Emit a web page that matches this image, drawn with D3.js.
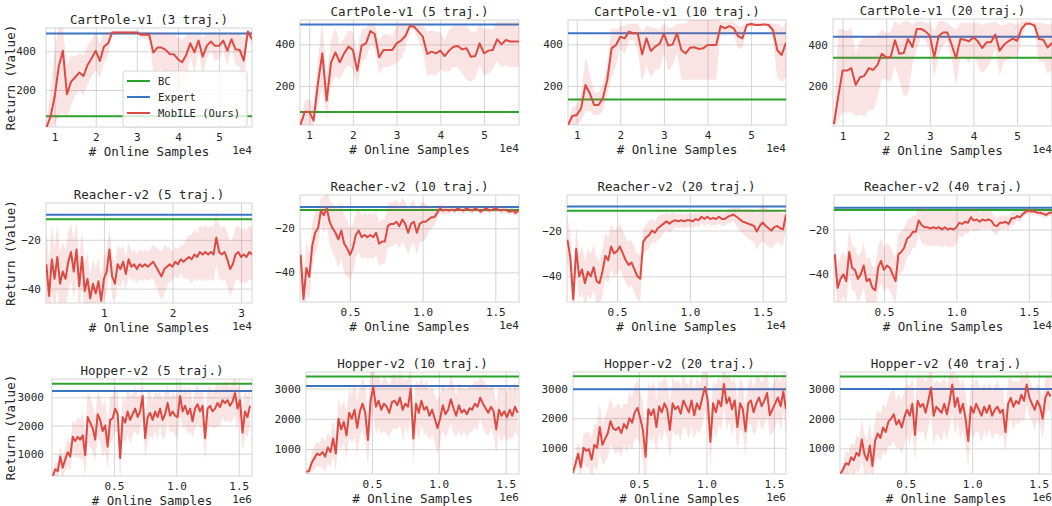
<!DOCTYPE html>
<html>
<head>
<meta charset="utf-8">
<script src="https://cdn.jsdelivr.net/npm/d3@7"></script>
<style>
body { margin: 0; background: #fff; }
svg { display: block; font-family: "DejaVu Sans Mono", monospace; }
</style>
</head>
<body>
<div id="chart"></div>
<script>
// ---- tick values ----
const cpXTicks = [1, 2, 3, 4, 5];
const cpYTicks = [200, 400];
const reach5XTicks = [1, 2, 3];
const reachXTicks = [0.5, 1.0, 1.5];
const reachYTicks = [-40, -20];
const hopXTicks = [0.5, 1.0, 1.5];
const hopYTicks = [1000, 2000, 3000];

const legendLabels = ['BC', 'Expert', 'MobILE (Ours)'];

// ---- CartPole (x = 0.8 .. 5.8 e4, step 0.1) ----
const cp3Mean = [7,62,165,321,403,178,243,266,290,272,329,364,402,350,424,441,497,497,497,497,497,497,497,485,485,485,393,419,419,407,386,384,359,343,381,441,395,455,372,428,450,428,428,455,403,462,410,407,352,502,462];
const cp3Lo = [5,5,20,60,80,60,120,170,200,170,230,270,300,260,340,380,480,490,490,490,490,490,490,470,460,460,290,300,310,280,250,250,180,230,250,370,290,400,270,360,400,350,360,410,320,420,330,320,230,490,420];
const cp3Hi = [30,200,400,520,520,330,380,370,390,380,430,460,500,440,500,500,505,505,505,505,505,505,505,500,500,500,495,500,500,495,490,490,470,460,480,500,480,500,470,490,500,490,490,500,480,500,490,490,470,510,500];

const cp5Mean = [13,77,77,34,213,357,130,314,362,314,357,389,373,274,394,405,464,450,338,373,373,373,405,418,440,488,485,461,437,354,365,357,370,344,370,389,392,376,381,341,344,405,357,370,373,424,400,421,414,414,414];
const cp5Lo = [5,10,10,10,100,200,40,200,250,230,280,300,280,190,320,330,400,380,260,290,290,300,310,330,380,470,470,420,370,250,260,250,280,270,270,290,290,260,230,220,240,300,250,260,280,320,290,300,290,290,290];
const cp5Hi = [20,130,140,100,330,510,250,420,480,400,430,470,460,360,470,480,500,500,420,450,450,440,490,500,500,500,500,500,500,460,470,460,460,420,470,490,490,490,490,460,460,500,470,480,470,510,510,510,510,510,510];

const cp10Mean = [13,56,61,93,205,165,109,109,141,229,381,397,437,429,461,453,453,352,429,368,389,402,450,394,400,453,373,357,384,386,378,381,397,397,397,488,477,488,477,440,429,493,498,493,493,496,493,469,373,349,408];
const cp10Lo = [5,10,15,30,80,80,60,60,80,160,240,300,380,350,420,420,370,220,300,240,280,280,360,270,300,360,230,230,230,230,230,230,230,230,230,460,440,460,440,380,380,480,490,490,490,490,480,420,240,220,240];
const cp10Hi = [30,100,110,160,340,260,170,170,210,310,480,470,490,490,500,500,500,460,490,480,480,470,500,480,480,500,500,500,520,520,520,520,520,520,520,510,510,510,510,490,490,505,505,505,505,505,505,500,500,480,500];

const cp20Mean = [12,147,276,276,288,205,243,250,288,279,304,359,342,342,425,359,362,431,392,481,481,469,448,342,445,464,464,403,337,431,428,420,440,420,387,415,415,453,374,403,420,433,423,481,506,506,498,431,428,390,412];
const cp20Lo = [3,30,70,70,70,55,60,50,80,80,140,240,230,220,300,230,150,160,300,380,440,420,380,240,350,400,420,330,200,340,340,310,360,300,260,290,320,390,250,320,330,350,340,430,500,500,480,320,320,260,280];
const cp20Hi = [20,480,480,470,490,360,420,440,450,440,450,480,460,470,520,500,520,520,500,520,520,510,510,470,520,520,510,490,480,510,510,510,510,510,500,510,510,520,500,500,510,510,500,520,520,520,515,510,510,500,510];

// ---- Reacher ----
const re5Mean = [-30,-43,-28,-36,-27,-38,-33,-36,-29,-25,-33,-24,-39,-27,-41,-36,-44,-38,-42,-37,-45,-36,-33,-24,-35,-38,-30,-32,-29,-34,-28,-31,-30,-32,-30,-31,-30,-31,-30,-29,-31,-33,-35,-32,-31,-30,-31,-29,-30,-28,-29,-28,-27,-28,-26,-27,-25,-26,-25,-26,-25,-26,-19,-25,-26,-25,-28,-32,-30,-26,-25,-27,-26,-27,-25,-26];
const re5Sd = [14,14,14,13,13,13,12,12,12,12,12,12,12,11,11,11,10,10,10,10,10,9,9,9,9,8,8,8,7,7,7,6,6,6,6,6,6,6,6,7,8,9,10,10,8,7,6,6,6,6,7,8,9,10,10,10,11,11,11,11,11,11,11,11,11,11,11,11,11,11,11,11,11,11,11,11];

const re10Mean = [-32,-52,-38,-42,-28,-22,-20,-12,-14,-11,-17,-20,-22,-25,-21,-27,-29,-32,-29,-23,-21,-24,-23,-24,-23,-24,-22,-27,-26,-26,-19,-18,-18,-17,-19,-16,-18,-22,-18,-17,-22,-18,-17,-17,-16,-15,-15,-13,-11,-12,-11.5,-12,-11.5,-12,-11,-11.5,-12,-11,-11.5,-12,-11,-11.5,-12.5,-11.5,-11,-12,-11.5,-11,-11.5,-12,-11.5,-12,-12.5,-12,-13,-12];
const re10Sd = [12,12,12,10,10,10,8,6,8,8,10,11,12,13,13,13,13,12,11,10,10,10,10,10,10,10,10,10,10,10,10,10,10,10,10,10,10,10,10,10,10,9,9,8,6,5,4,3,2,2,2,1.5,1.5,1.5,1.5,1.5,1.5,1.5,1.5,1.5,1.5,1.5,1.5,1.5,1.5,1.5,1.5,1.5,1.5,1.5,1.5,1.5,1.5,1.5,1.5,1.5];

const re20Mean = [-24,-32,-50,-28,-40,-37,-43,-38,-40,-36,-42,-43,-38,-31,-33,-27,-30,-29,-27,-30,-33,-35,-34,-37,-40,-41,-25,-23,-22,-20,-21,-19,-18,-17,-16,-17,-16,-15.5,-16,-15.5,-16,-15.5,-15.5,-16,-15,-15.5,-14,-15,-14,-15,-14.5,-15,-14,-15,-15,-14,-13.5,-13,-14,-15,-16,-16.5,-17,-17.5,-18,-20.5,-18,-16.5,-18,-19,-20,-18.5,-18,-19,-19.5,-13];
const re20Sd = [10,10,10,10,10,10,10,10,10,10,10,10,10,10,10,10,10,10,10,10,10,10,10,10,10,10,6,6,6,5,5,5,5,4,4,4,4,3,3,3,3,3,3,3,3,3,3,3,3,3,3,3,3,3,3,3,3,3,4,5,5,6,6,7,7,8,8,8,8,8,8,8,7,7,7,6];

const re40Mean = [-31,-46,-42,-40,-43,-30,-37,-38,-42,-40,-36,-43,-42,-46,-47,-37,-34,-38,-36,-37,-40,-43,-31,-30,-28,-24,-23,-21,-21,-16,-18,-19,-19,-19.5,-19,-19.5,-19,-20,-19,-20,-19.5,-20,-19,-17,-17.5,-16.5,-17,-14.5,-16,-15.5,-16.5,-15.5,-16,-15.5,-16,-18,-18.5,-17,-17,-16.5,-17.5,-15,-15,-14,-14.5,-13,-12,-11.5,-12,-12,-12.5,-12.5,-13,-13.5,-12.5,-12.5];
const re40Sd = [10,10,10,10,10,10,10,10,10,10,10,10,10,10,10,10,10,10,10,10,10,10,9,9,9,8,8,7,7,6,8,8,8,8,8,8,8,8,8,8,8,8,7,6,6,5,5,5,5,5,4,4,4,4,4,4,4,3,3,3,3,3,3,2,2,1.5,1.5,1.5,1.5,1.5,1.5,1.5,1.5,1.5,1.5,1.5];

// ---- Hopper (x = 0.01 .. 1.59 e6, step 0.02) ----
const hop5Mean = [200,450,380,900,500,800,1050,900,1600,1450,1600,1500,1650,950,2300,2100,1900,1500,2400,2200,1800,2000,1250,2200,2250,2600,2400,850,2300,2100,2500,2200,2400,2600,2300,2500,3050,1550,2300,2450,2200,2500,2300,2600,2200,2400,2800,2350,2500,2350,2300,3050,2500,2700,2400,2600,2150,2600,2750,2500,2700,1550,2600,2700,2500,2600,2800,2650,2900,2800,2900,2700,2850,3150,2600,2900,1750,2500,2300,2700];
const hop5Sd = [200,300,300,400,400,400,500,500,600,600,700,700,800,800,900,900,800,800,800,800,900,900,800,800,800,800,700,900,800,700,800,900,700,800,700,600,800,700,900,800,700,700,800,600,700,800,700,600,700,700,800,700,600,700,700,800,600,700,700,600,700,800,700,700,600,700,800,700,600,700,700,600,700,800,700,600,700,800,700,700];

const hop10Mean = [250,280,550,700,850,800,900,750,1050,900,1350,850,2000,1650,1900,1450,2200,2000,2300,1700,2250,2500,2200,1300,2600,3050,2400,2600,2300,2500,2400,2200,2550,2600,2450,2700,2300,2500,2400,3000,1350,2500,2200,2600,2300,2400,2100,2300,2000,1700,2000,2450,2150,2300,2650,2350,2100,2450,2200,2300,2150,2350,2300,2500,2400,2700,2500,2350,2200,2400,2250,1650,2300,2100,2250,2050,2300,2100,2400,2200];
const hop10Sd = [100,150,300,400,400,400,500,500,500,500,600,600,700,700,700,800,800,800,900,900,800,900,900,900,1000,900,900,900,800,900,900,800,900,900,800,900,1000,800,900,800,900,800,900,800,800,900,800,800,800,900,800,800,800,700,800,800,700,800,800,700,800,800,700,800,800,700,800,800,800,700,800,800,800,900,800,800,900,800,800,800];

const hop20Mean = [150,450,800,350,1000,900,950,600,1100,1000,1700,1100,1300,1500,1900,1650,1600,1700,1500,1800,1650,2000,1850,2200,2350,2000,1600,700,2300,2100,2300,1700,2400,2200,2500,2300,1600,2500,2300,2400,2150,2600,2400,2200,2600,2100,2500,2300,2700,3050,2600,1200,2500,2200,2600,2400,3150,2500,2700,2300,2600,1700,2500,2300,1550,2500,2600,2200,2500,2700,2400,2600,2850,2100,2300,2500,2700,2400,2900,2300];
const hop20Sd = [100,300,400,500,500,600,600,700,700,800,800,700,800,800,800,700,800,800,800,700,800,900,900,900,1000,900,1000,1000,900,900,1000,900,900,1000,900,900,1000,900,900,900,900,900,800,900,900,800,900,800,900,800,800,900,800,900,800,800,800,900,800,900,800,800,900,800,800,700,800,800,900,700,800,800,800,700,800,800,700,800,700,800];

const hop40Mean = [150,300,500,450,700,600,850,750,1300,800,600,1100,400,1250,1500,1350,1700,1550,1900,2000,2150,1800,1950,1700,2050,2300,2100,2500,1450,2600,2400,2500,2200,2600,3050,2100,2400,2300,2200,2500,2150,2600,3150,2400,2700,2200,2500,2000,1250,2400,2200,2500,2300,2100,2400,2200,2450,2100,2300,2400,2200,2300,1550,2500,2700,2400,2600,2500,2800,2600,3150,2700,2500,2300,2600,2400,2000,2700,2900,2750];
const hop40Sd = [100,200,400,400,500,500,600,600,700,700,700,800,800,700,800,800,800,800,800,900,900,800,900,900,900,900,1000,900,900,1000,900,900,1000,900,900,1000,900,900,1000,900,900,900,1000,900,800,900,900,900,900,800,900,900,800,900,800,800,800,800,800,900,800,800,700,800,700,800,700,700,800,700,700,600,600,700,600,600,700,600,600,600];

// ---- look ----
const colRed = '#dc4a44';
const colGreen = '#2ca22c';
const colBlue = '#3a75c4';
const colGrid = '#d4d4d4';
const colText = '#262626';

const W = 1052, H = 506;

const panels = [
  {title: 'CartPole-v1 (3 traj.)', x0: 0.8, step: 0.1, mean: cp3Mean, lo: cp3Lo, hi: cp3Hi, bc: 64, expert: 491,
   xDom: [0.79, 5.8], yDom: [9, 520], xTicks: cpXTicks, yTicks: cpYTicks, xFmt: d3.format('d'), off: '1e4',
   box: [46, 28, 252, 127], ylabel: true, legend: true, yPad: 10},
  {title: 'CartPole-v1 (5 traj.)', x0: 0.8, step: 0.1, mean: cp5Mean, lo: cp5Lo, hi: cp5Hi, bc: 75, expert: 496,
   xDom: [0.79, 5.8], yDom: [13, 517], xTicks: cpXTicks, yTicks: cpYTicks, xFmt: d3.format('d'), off: '1e4',
   box: [300, 20, 519, 125]},
  {title: 'CartPole-v1 (10 traj.)', x0: 0.8, step: 0.1, mean: cp10Mean, lo: cp10Lo, hi: cp10Hi, bc: 136, expert: 454,
   xDom: [0.8, 5.8], yDom: [13, 517], xTicks: cpXTicks, yTicks: cpYTicks, xFmt: d3.format('d'), off: '1e4',
   box: [568, 20, 786, 125]},
  {title: 'CartPole-v1 (20 traj.)', x0: 0.8, step: 0.1, mean: cp20Mean, lo: cp20Lo, hi: cp20Hi, bc: 339, expert: 443,
   xDom: [0.78, 5.8], yDom: [3, 530], xTicks: cpXTicks, yTicks: cpYTicks, xFmt: d3.format('d'), off: '1e4',
   box: [833, 19, 1052, 126]},

  {title: 'Reacher-v2 (5 traj.)', x0: 0.16, step: 0.04, mean: re5Mean, sd: re5Sd, bc: -11.6, expert: -9.7,
   xDom: [0.155, 3.16], yDom: [-45.9, -4.9], xTicks: reach5XTicks, yTicks: reachYTicks, xFmt: d3.format('d'), off: '1e4',
   box: [46, 203, 252, 303], ylabel: true},
  {title: 'Reacher-v2 (10 traj.)', x0: 0.16, step: 0.02, mean: re10Mean, sd: re10Sd, bc: -11.7, expert: -10.3,
   xDom: [0.156, 1.663], yDom: [-53.4, -4.9], xTicks: reachXTicks, yTicks: reachYTicks, xFmt: d3.format('.1f'), off: '1e4',
   box: [300, 195, 519, 302]},
  {title: 'Reacher-v2 (20 traj.)', x0: 0.16, step: 0.02, mean: re20Mean, sd: re20Sd, bc: -11.4, expert: -9.5,
   xDom: [0.157, 1.66], yDom: [-51.2, -4.5], xTicks: reachXTicks, yTicks: reachYTicks, xFmt: d3.format('.1f'), off: '1e4',
   box: [567, 195, 786, 302]},
  {title: 'Reacher-v2 (40 traj.)', x0: 0.16, step: 0.02, mean: re40Mean, sd: re40Sd, bc: -11.3, expert: -10.3,
   xDom: [0.155, 1.66], yDom: [-52.3, -4.6], xTicks: reachXTicks, yTicks: reachYTicks, xFmt: d3.format('.1f'), off: '1e4',
   box: [834, 195, 1052, 302]},

  {title: 'Hopper-v2 (5 traj.)', x0: 0.01, step: 0.02, mean: hop5Mean, sd: hop5Sd, bc: 3482, expert: 3223,
   xDom: [0.004, 1.606], yDom: [210, 3650], xTicks: hopXTicks, yTicks: hopYTicks, xFmt: d3.format('.1f'), off: '1e6',
   box: [52, 379, 252, 476], ylabel: true, yPad: 8},
  {title: 'Hopper-v2 (10 traj.)', x0: 0.01, step: 0.02, mean: hop10Mean, sd: hop10Sd, bc: 3396, expert: 3086,
   xDom: [0.007, 1.6], yDom: [175, 3548], xTicks: hopXTicks, yTicks: hopYTicks, xFmt: d3.format('.1f'), off: '1e6',
   box: [306, 372, 519, 474]},
  {title: 'Hopper-v2 (20 traj.)', x0: 0.01, step: 0.02, mean: hop20Mean, sd: hop20Sd, bc: 3414, expert: 2976,
   xDom: [0.012, 1.59], yDom: [115, 3559], xTicks: hopXTicks, yTicks: hopYTicks, xFmt: d3.format('.1f'), off: '1e6',
   box: [573, 372, 786, 474]},
  {title: 'Hopper-v2 (40 traj.)', x0: 0.01, step: 0.02, mean: hop40Mean, sd: hop40Sd, bc: 3416, expert: 3000,
   xDom: [0.006, 1.6], yDom: [138, 3570], xTicks: hopXTicks, yTicks: hopYTicks, xFmt: d3.format('.1f'), off: '1e6',
   box: [840, 372, 1052, 474]}
];

const svg = d3.select('#chart').append('svg')
  .attr('width', W)
  .attr('height', H)
  .attr('viewBox', [0, 0, W, H]);

panels.forEach((p, k) => {
  const [l, t, r, b] = p.box;
  const x = d3.scaleLinear().domain(p.xDom).range([l, r]);
  const y = d3.scaleLinear().domain(p.yDom).range([b, t]);
  const xs = p.mean.map((_, i) => p.x0 + i * p.step);
  const lo = p.lo ? p.lo : p.mean.map((m, i) => m - p.sd[i]);
  const hi = p.hi ? p.hi : p.mean.map((m, i) => m + p.sd[i]);

  const g = svg.append('g');

  g.append('clipPath').attr('id', `clip${k}`)
    .append('rect').attr('x', l).attr('y', t).attr('width', r - l).attr('height', b - t);

  // grid + tick labels through d3 axes
  const xAxis = g.append('g')
    .attr('transform', `translate(0,${b})`)
    .call(d3.axisBottom(x).tickValues(p.xTicks).tickFormat(p.xFmt).tickSize(-(b - t)).tickPadding(6));
  const yAxis = g.append('g')
    .attr('transform', `translate(${l},0)`)
    .call(d3.axisLeft(y).tickValues(p.yTicks).tickFormat(d3.format('d'))
      .tickSize(-(r - l)).tickPadding(p.yPad || 5));

  [xAxis, yAxis].forEach(a => {
    a.select('.domain').remove();
    a.selectAll('.tick line').attr('stroke', colGrid).attr('stroke-width', 1);
    a.selectAll('.tick text')
      .attr('fill', colText)
      .style('font-family', '"DejaVu Sans Mono", monospace')
      .style('font-size', '11px');
  });

  // frame
  g.append('rect')
    .attr('x', l).attr('y', t).attr('width', r - l).attr('height', b - t)
    .attr('fill', 'none').attr('stroke', colGrid).attr('stroke-width', 1);

  const plot = g.append('g').attr('clip-path', `url(#clip${k})`);

  plot.append('line')
    .attr('x1', l).attr('x2', r).attr('y1', y(p.bc)).attr('y2', y(p.bc))
    .attr('stroke', colGreen).attr('stroke-width', 2);
  plot.append('line')
    .attr('x1', l).attr('x2', r).attr('y1', y(p.expert)).attr('y2', y(p.expert))
    .attr('stroke', colBlue).attr('stroke-width', 2);

  const area = d3.area()
    .x((d, i) => x(xs[i]))
    .y0((d, i) => y(lo[i]))
    .y1((d, i) => y(hi[i]));
  plot.append('path')
    .attr('d', area(p.mean))
    .attr('fill', colRed)
    .attr('fill-opacity', 0.15);

  const line = d3.line()
    .x((d, i) => x(xs[i]))
    .y(d => y(d));
  plot.append('path')
    .attr('d', line(p.mean))
    .attr('fill', 'none')
    .attr('stroke', colRed)
    .attr('stroke-width', 2)
    .attr('stroke-linejoin', 'round');

  g.append('text')
    .attr('x', (l + r) / 2).attr('y', t - 4)
    .attr('text-anchor', 'middle')
    .attr('fill', colText)
    .style('font-size', '12.5px')
    .text(p.title);

  g.append('text')
    .attr('x', (l + r) / 2).attr('y', b + 28.5)
    .attr('text-anchor', 'middle')
    .attr('fill', colText)
    .style('font-size', '12.5px')
    .text('# Online Samples');

  g.append('text')
    .attr('x', r).attr('y', b + 27)
    .attr('text-anchor', 'end')
    .attr('fill', colText)
    .style('font-size', '11px')
    .text(p.off);

  if (p.ylabel) {
    g.append('text')
      .attr('transform', `translate(15,${(t + b) / 2}) rotate(-90)`)
      .attr('text-anchor', 'middle')
      .attr('fill', colText)
      .style('font-size', '12.5px')
      .text('Return (Value)');
  }

  if (p.legend) {
    const lg = g.append('g').attr('transform', `translate(${l + 77},${t + 43})`);
    lg.append('rect')
      .attr('width', 124).attr('height', 56).attr('rx', 3)
      .attr('fill', '#fff').attr('fill-opacity', 0.8)
      .attr('stroke', colGrid);
    const cols = [colGreen, colBlue, colRed];
    legendLabels.forEach((name, i) => {
      const yy = 10 + i * 16;
      lg.append('line')
        .attr('x1', 4).attr('x2', 27).attr('y1', yy).attr('y2', yy)
        .attr('stroke', cols[i]).attr('stroke-width', 2);
      lg.append('text')
        .attr('x', 35).attr('y', yy + 4)
        .attr('fill', colText)
        .style('font-size', '10.5px')
        .text(name);
    });
  }
});
</script>
</body>
</html>
